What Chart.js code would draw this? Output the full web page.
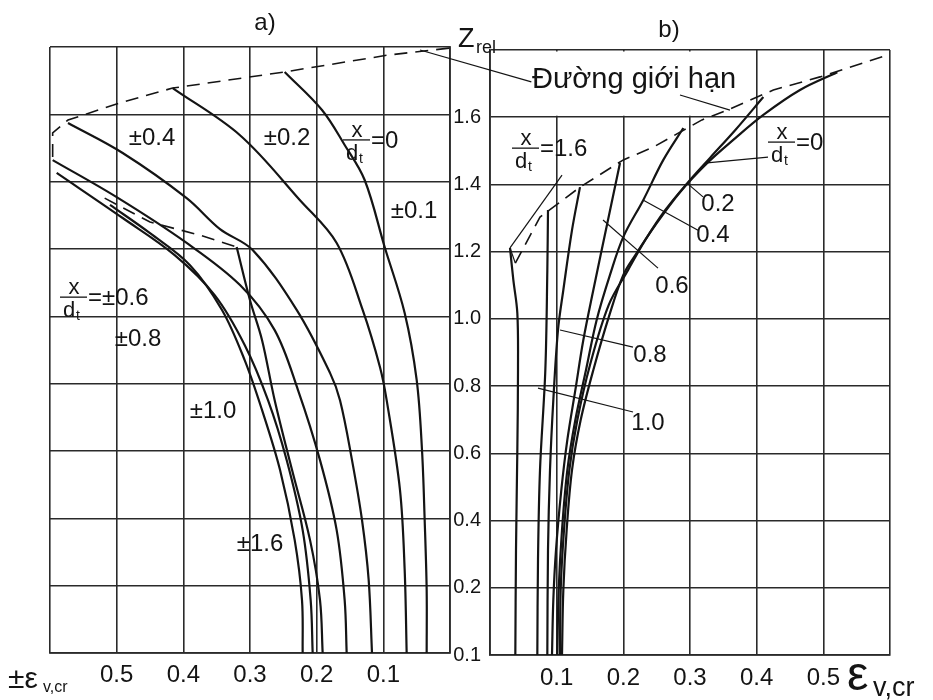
<!DOCTYPE html>
<html>
<head>
<meta charset="utf-8">
<script src="https://cdn.jsdelivr.net/npm/chart.js@4.4.1/dist/chart.umd.min.js"></script>
<style>
  html, body { margin: 0; padding: 0; background: #fff; }
  #wrap { position: relative; width: 933px; height: 700px; overflow: hidden; }
  #wrap canvas { position: absolute; left: 0; top: 0; }
</style>
</head>
<body>
<div id="wrap">
  <canvas id="chartA" width="933" height="700"></canvas>
  <canvas id="chartB" width="933" height="700"></canvas>
</div>
<script>
// grid and tick labels (bottom line is labelled 0.1 on the original scale)
const epsGrid = [0, 0.1, 0.2, 0.3, 0.4, 0.5, 0.6];
const epsTickLabels = ['', '0.1', '0.2', '0.3', '0.4', '0.5', ''];
const zGrid = [0, 0.2, 0.4, 0.6, 0.8, 1.0, 1.2, 1.4, 1.6, 1.8];
const zTickLabels = ['0.1', '0.2', '0.4', '0.6', '0.8', '1.0', '1.2', '1.4', '1.6', ''];

// a) curves, eps read right-to-left
const epsA_0 = [0.248, 0.192, 0.158, 0.128, 0.098, 0.068, 0.050, 0.042, 0.038, 0.035, 0.035];
const zA_0 = [1.726, 1.613, 1.509, 1.405, 1.206, 1.010, 0.811, 0.603, 0.395, 0.187, 0];
const epsA_02 = [0.416, 0.315, 0.225, 0.170, 0.131, 0.105, 0.095, 0.075, 0.068, 0.065];
const zA_02 = [1.678, 1.538, 1.345, 1.218, 1.019, 0.849, 0.751, 0.484, 0.247, 0];
const epsA_04 = [0.573, 0.491, 0.395, 0.345, 0.296, 0.230, 0.180, 0.165, 0.147, 0.132, 0.122, 0.117];
const zA_04 = [1.574, 1.485, 1.351, 1.259, 1.197, 1.019, 0.832, 0.751, 0.573, 0.395, 0.217, 0];
const epsA_06 = [0.596, 0.500, 0.395, 0.315, 0.263, 0.228, 0.195, 0.170, 0.158, 0.155];
const zA_06 = [1.464, 1.354, 1.218, 1.093, 0.959, 0.781, 0.573, 0.365, 0.157, 0];
const epsA_08 = [0.590, 0.491, 0.413, 0.353, 0.308, 0.273, 0.245, 0.221, 0.209, 0.206];
const zA_08 = [1.426, 1.292, 1.182, 1.063, 0.915, 0.751, 0.573, 0.365, 0.157, 0];
const epsA_10 = [0.510, 0.450, 0.390, 0.342, 0.308, 0.282, 0.255, 0.233, 0.222, 0.221];
const zA_10 = [1.331, 1.247, 1.152, 1.019, 0.870, 0.722, 0.544, 0.336, 0.157, 0];
const epsA_16 = [0.320, 0.300, 0.282, 0.263, 0.237, 0.210, 0.195, 0.191];
const zA_16 = [1.206, 1.048, 0.930, 0.751, 0.544, 0.336, 0.157, 0];
const epsA_limit = [0.596, 0.596, 0.573, 0.495, 0.416, 0.248, 0.093, 0.0];
const zA_limit = [1.473, 1.545, 1.583, 1.634, 1.678, 1.726, 1.776, 1.797];
const epsA_limit2 = [0.518, 0.450, 0.375, 0.320];
const zA_limit2 = [1.351, 1.280, 1.241, 1.206];

// b) curves
const epsB_0 = [0.521, 0.465, 0.410, 0.368, 0.326, 0.285, 0.248, 0.218, 0.200, 0.180, 0.155, 0.136, 0.123, 0.115, 0.110, 0.108];
const zB_0 = [1.734, 1.681, 1.607, 1.538, 1.464, 1.377, 1.279, 1.190, 1.131, 1.017, 0.848, 0.699, 0.550, 0.372, 0.193, 0];
const epsB_02 = [0.410, 0.368, 0.330, 0.296, 0.263, 0.233, 0.207, 0.178, 0.150, 0.131, 0.119, 0.111, 0.106, 0.105];
const zB_02 = [1.660, 1.562, 1.479, 1.404, 1.324, 1.235, 1.145, 1.041, 0.863, 0.699, 0.550, 0.372, 0.193, 0];
const epsB_04 = [0.290, 0.260, 0.230, 0.200, 0.180, 0.160, 0.144, 0.128, 0.116, 0.108, 0.103, 0.101];
const zB_04 = [1.568, 1.473, 1.354, 1.244, 1.131, 0.997, 0.848, 0.699, 0.550, 0.372, 0.193, 0];
const epsB_06 = [0.195, 0.177, 0.155, 0.140, 0.128, 0.116, 0.107, 0.099, 0.095, 0.093];
const zB_06 = [1.464, 1.294, 1.086, 0.937, 0.788, 0.640, 0.491, 0.312, 0.164, 0];
const epsB_08 = [0.135, 0.123, 0.110, 0.102, 0.095, 0.090, 0.087, 0.086];
const zB_08 = [1.392, 1.264, 1.086, 0.967, 0.759, 0.550, 0.312, 0];
const epsB_10 = [0.087, 0.086, 0.083, 0.075, 0.072, 0.071];
const zB_10 = [1.324, 1.145, 0.848, 0.550, 0.283, 0];
const epsB_16 = [0.030, 0.035, 0.041, 0.042, 0.041, 0.039, 0.038];
const zB_16 = [1.211, 1.116, 1.017, 0.848, 0.610, 0.312, 0];
const epsB_limit = [0.038, 0.075, 0.135, 0.200, 0.245, 0.318, 0.356, 0.425, 0.495, 0.596];
const zB_limit = [1.166, 1.303, 1.392, 1.473, 1.511, 1.592, 1.621, 1.681, 1.720, 1.785];

const FONT = '"Liberation Sans", Arial, Helvetica, sans-serif';
const INK = '#141414';
const GRID = '#2a2a2a';

// text placed on the plots, in axis units
const notesA = [
  { t: '±0.4', x: 0.447, y: 1.530 },
  { t: '±0.2', x: 0.2445, y: 1.530 },
  { t: '±0.1', x: 0.054, y: 1.313 },
  { t: '±0.8', x: 0.468, y: 0.933 },
  { t: '±1.0', x: 0.3555, y: 0.719 },
  { t: '±1.6', x: 0.285, y: 0.324 }
];
const fracA = [
  { v: '=0', x: 0.1605, y: 1.524 },
  { v: '=±0.6', x: 0.585, y: 1.057 }
];
const notesB = [
  { t: '0.2', x: 0.342, y: 1.342 },
  { t: '0.4', x: 0.3345, y: 1.247 },
  { t: '0.6', x: 0.273, y: 1.098 },
  { t: '0.8', x: 0.240, y: 0.890 },
  { t: '1.0', x: 0.237, y: 0.690 }
];
const fracB = [
  { v: '=1.6', x: 0.033, y: 1.508 },
  { v: '=0', x: 0.417, y: 1.526 }
];
const leadersB = [
  [0.2955, 1.404, 0.3195, 1.363],
  [0.2295, 1.354, 0.312, 1.264],
  [0.1695, 1.294, 0.252, 1.151],
  [0.105, 0.967, 0.2145, 0.916],
  [0.072, 0.794, 0.2145, 0.723],
  [0.3255, 1.464, 0.417, 1.481],
  [0.108, 1.428, 0.030, 1.211],
  [0.030, 1.211, 0.038, 1.166],
  [-0.105, 1.80, 0.062, 1.705],
  [0.285, 1.666, 0.360, 1.621]
];

function pts(eps, z) {
  return eps.map((e, i) => ({ x: e, y: z[i] }));
}
function solid(eps, z) {
  return { data: pts(eps, z), borderColor: INK, borderWidth: 2.2, pointRadius: 0, tension: 0.35, fill: false };
}
function dashed(eps, z) {
  return { data: pts(eps, z), borderColor: INK, borderWidth: 1.6, borderDash: [13, 8], pointRadius: 0, tension: 0, fill: false };
}

function drawFrac(ctx, px, py, val) {
  ctx.save();
  ctx.strokeStyle = INK;
  ctx.fillStyle = INK;
  ctx.lineWidth = 1.3;
  ctx.beginPath();
  ctx.moveTo(px, py);
  ctx.lineTo(px + 27, py);
  ctx.stroke();
  ctx.textAlign = 'center';
  ctx.textBaseline = 'alphabetic';
  ctx.font = '22px ' + FONT;
  ctx.fillText('x', px + 14, py - 3);
  ctx.textAlign = 'left';
  ctx.fillText('d', px + 3, py + 20);
  ctx.font = '14px ' + FONT;
  ctx.fillText('t', px + 16, py + 23);
  ctx.font = '24px ' + FONT;
  ctx.textBaseline = 'middle';
  ctx.fillText(val, px + 28, py + 1);
  ctx.restore();
}

function drawNotes(ctx, x, y, notes, size) {
  ctx.save();
  ctx.fillStyle = INK;
  ctx.font = size + 'px ' + FONT;
  ctx.textAlign = 'center';
  ctx.textBaseline = 'middle';
  notes.forEach(n => ctx.fillText(n.t, x.getPixelForValue(n.x), y.getPixelForValue(n.y)));
  ctx.restore();
}

const gridTicksX = s => { s.ticks = epsGrid.map(v => ({ value: v })); };
const gridTicksY = s => { s.ticks = zGrid.map(v => ({ value: v })); };

const panelA = {
  id: 'panelA',
  afterDatasetsDraw(chart) {
    const { ctx, chartArea: a, scales: { x, y } } = chart;
    drawNotes(ctx, x, y, notesA, 24);
    fracA.forEach(f => drawFrac(ctx, x.getPixelForValue(f.x), y.getPixelForValue(f.y), f.v));
    ctx.save();
    ctx.fillStyle = INK;
    ctx.textAlign = 'center';
    ctx.textBaseline = 'middle';
    ctx.font = '24px ' + FONT;
    ctx.fillText('a)', a.left + 215, a.top - 24);
    // axis title ±ε v,cr
    ctx.textAlign = 'left';
    ctx.textBaseline = 'alphabetic';
    ctx.font = '30px ' + FONT;
    ctx.fillText('±ε', 8, 688);
    ctx.font = '16px ' + FONT;
    ctx.fillText('v,cr', 43, 692);
    ctx.restore();
  }
};

const panelB = {
  id: 'panelB',
  beforeDatasetsDraw(chart) {
    // the label box interrupts the grid in the top row
    const { ctx, scales: { x, y } } = chart;
    const l = x.getPixelForValue(0) + 1.5, r = x.getPixelForValue(0.4) - 1.5;
    const t = y.getPixelForValue(1.8) + 1.5, b = y.getPixelForValue(1.6) - 1.5;
    ctx.save();
    ctx.fillStyle = '#fff';
    ctx.fillRect(l, t, r - l, b - t);
    ctx.restore();
  },
  afterDatasetsDraw(chart) {
    const { ctx, chartArea: a, scales: { x, y } } = chart;
    ctx.save();
    ctx.strokeStyle = INK;
    ctx.lineWidth = 1.2;
    leadersB.forEach(s => {
      ctx.beginPath();
      ctx.moveTo(x.getPixelForValue(s[0]), y.getPixelForValue(s[1]));
      ctx.lineTo(x.getPixelForValue(s[2]), y.getPixelForValue(s[3]));
      ctx.stroke();
    });
    ctx.restore();
    drawNotes(ctx, x, y, notesB, 24);
    fracB.forEach(f => drawFrac(ctx, x.getPixelForValue(f.x), y.getPixelForValue(f.y), f.v));
    ctx.save();
    ctx.fillStyle = INK;
    ctx.textBaseline = 'middle';
    ctx.textAlign = 'left';
    ctx.font = '29px ' + FONT;
    ctx.fillText('Đường giới hạn', x.getPixelForValue(0.063), y.getPixelForValue(1.712));
    ctx.textAlign = 'center';
    ctx.font = '24px ' + FONT;
    ctx.fillText('b)', a.left + 179, a.top - 20);
    // axis titles
    ctx.textAlign = 'left';
    ctx.textBaseline = 'alphabetic';
    ctx.font = '27px ' + FONT;
    ctx.fillText('Z', a.left - 32, a.top - 3);
    ctx.font = '18px ' + FONT;
    ctx.fillText('rel', a.left - 14, a.top + 3);
    ctx.font = '48px ' + FONT;
    ctx.fillText('ε', 847, 690);
    ctx.font = '27px ' + FONT;
    ctx.fillText('v,cr', 873, 696);
    ctx.restore();
  }
};

const commonPlugins = { legend: { display: false }, tooltip: { enabled: false } };

new Chart(document.getElementById('chartA'), {
  type: 'line',
  data: {
    datasets: [
      solid(epsA_0, zA_0),
      solid(epsA_02, zA_02),
      solid(epsA_04, zA_04),
      solid(epsA_06, zA_06),
      solid(epsA_08, zA_08),
      solid(epsA_10, zA_10),
      solid(epsA_16, zA_16),
      dashed(epsA_limit, zA_limit),
      dashed(epsA_limit2, zA_limit2)
    ]
  },
  options: {
    responsive: false,
    animation: false,
    events: [],
    layout: { padding: { left: 50, right: 483, top: 47, bottom: 0 } },
    plugins: commonPlugins,
    scales: {
      x: {
        type: 'linear', min: 0, max: 0.6, reverse: true,
        afterBuildTicks: gridTicksX,
        afterFit: s => { s.height = 47; },
        grid: { color: GRID, lineWidth: 1.6, drawTicks: false },
        border: { color: GRID, width: 1.8 },
        ticks: {
          padding: 8, color: INK, maxRotation: 0, autoSkip: false,
          font: { family: FONT, size: 24 },
          callback: (v, i) => epsTickLabels[i]
        }
      },
      y: {
        type: 'linear', position: 'right', min: 0, max: 1.8,
        afterBuildTicks: gridTicksY,
        afterFit: s => { s.width = 0; },
        grid: { color: GRID, lineWidth: 1.6, drawTicks: false },
        border: { color: GRID, width: 1.8 },
        ticks: { display: false }
      }
    }
  },
  plugins: [panelA]
});

new Chart(document.getElementById('chartB'), {
  type: 'line',
  data: {
    datasets: [
      solid(epsB_0, zB_0),
      solid(epsB_02, zB_02),
      solid(epsB_04, zB_04),
      solid(epsB_06, zB_06),
      solid(epsB_08, zB_08),
      solid(epsB_10, zB_10),
      solid(epsB_16, zB_16),
      dashed(epsB_limit, zB_limit)
    ]
  },
  options: {
    responsive: false,
    animation: false,
    events: [],
    layout: { padding: { left: 440, right: 43, top: 50, bottom: 0 } },
    plugins: commonPlugins,
    scales: {
      x: {
        type: 'linear', min: 0, max: 0.6,
        afterBuildTicks: gridTicksX,
        afterFit: s => { s.height = 45; },
        grid: { color: GRID, lineWidth: 1.6, drawTicks: false },
        border: { color: GRID, width: 1.8 },
        ticks: {
          padding: 9, color: INK, maxRotation: 0, autoSkip: false,
          font: { family: FONT, size: 24 },
          callback: (v, i) => epsTickLabels[i]
        }
      },
      y: {
        type: 'linear', position: 'left', min: 0, max: 1.8,
        afterBuildTicks: gridTicksY,
        afterFit: s => { s.width = 50; },
        grid: { color: GRID, lineWidth: 1.6, drawTicks: false },
        border: { color: GRID, width: 1.8 },
        ticks: {
          padding: 9, color: INK,
          font: { family: FONT, size: 20 },
          callback: (v, i) => zTickLabels[i]
        }
      }
    }
  },
  plugins: [panelB]
});
</script>
</body>
</html>
